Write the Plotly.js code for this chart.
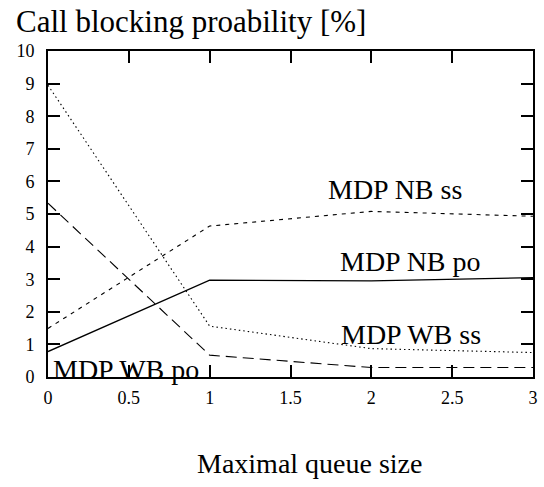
<!DOCTYPE html>
<html>
<head>
<meta charset="utf-8">
<script src="https://cdn.plot.ly/plotly-3.0.1.min.js"></script>
<style>
  html, body { margin: 0; padding: 0; background: #fff; }
  #chart { width: 544px; height: 487px; }
</style>
</head>
<body>
<div id="chart"></div>
<script>
// Maximal queue size (x) and call blocking probability in percent (y)
const queueSize = [0, 1, 2, 3];
const nbPo = [0.78, 2.97, 2.95, 3.05];
const nbSs = [1.49, 4.63, 5.08, 4.93];
const wbSs = [8.95, 1.56, 0.87, 0.75];
const wbPo = [5.33, 0.67, 0.29, 0.29];

const seriesNames = ['MDP NB po', 'MDP NB ss', 'MDP WB ss', 'MDP WB po'];
const labelX = [2.243, 2.147, 2.243, 0.485];
const labelY = [3.53, 5.74, 1.31, 0.24];

const serif = 'Liberation Serif';

function trace(y, name, dash, width) {
  return {
    x: queueSize, y: y, name: name, type: 'scatter', mode: 'lines',
    line: { color: '#000', width: width, dash: dash },
    hoverinfo: 'skip'
  };
}

const data = [
  trace(nbPo, seriesNames[0], 'solid', 1.3),
  trace(nbSs, seriesNames[1], '4px,5px', 1.1),
  trace(wbSs, seriesNames[2], '1.5px,3px', 1.1),
  trace(wbPo, seriesNames[3], '11px,6px', 1.1)
];

const annotations = seriesNames.map((n, i) => ({
  x: labelX[i], y: labelY[i], xref: 'x', yref: 'y',
  text: n, showarrow: false, xanchor: 'center', yanchor: 'middle',
  font: { family: serif, size: 28, color: '#000' }
}));

// axis caption sits below the tick labels
annotations.push({
  x: 0.540, y: -0.265, xref: 'paper', yref: 'paper',
  text: 'Maximal queue size', showarrow: false,
  xanchor: 'center', yanchor: 'middle',
  font: { family: serif, size: 28, color: '#000' }
});

// chart heading, top left (above the plot frame)
annotations.push({
  x: -0.070, y: 1.150, xref: 'paper', yref: 'paper',
  text: 'Call blocking proability [%]', showarrow: false,
  xanchor: 'left', yanchor: 'top',
  font: { family: serif, size: 31, color: '#000' }
});

const axisCommon = {
  showgrid: false, zeroline: false,
  showline: true, linecolor: '#000', linewidth: 2,
  mirror: 'allticks',
  ticks: 'inside', ticklen: 12, tickwidth: 2, tickcolor: '#000',
  tickfont: { family: serif, size: 18, color: '#000' },
  fixedrange: true
};

const layout = {
  width: 544, height: 487,
  margin: { l: 48, r: 11, t: 51, b: 110 },
  paper_bgcolor: '#fff', plot_bgcolor: '#fff',
  font: { family: serif, color: '#000' },
  showlegend: false,
  xaxis: Object.assign({}, axisCommon, {
    range: [0, 3], tickvals: [0, 0.5, 1, 1.5, 2, 2.5, 3],
    ticktext: ['0', '0.5', '1', '1.5', '2', '2.5', '3'],
    ticklabelstandoff: 3
  }),
  yaxis: Object.assign({}, axisCommon, {
    range: [0, 10], dtick: 1,
    ticklabelstandoff: 8
  }),
  annotations: annotations
};

Plotly.newPlot('chart', data, layout, { displayModeBar: false, staticPlot: true });
</script>
</body>
</html>
